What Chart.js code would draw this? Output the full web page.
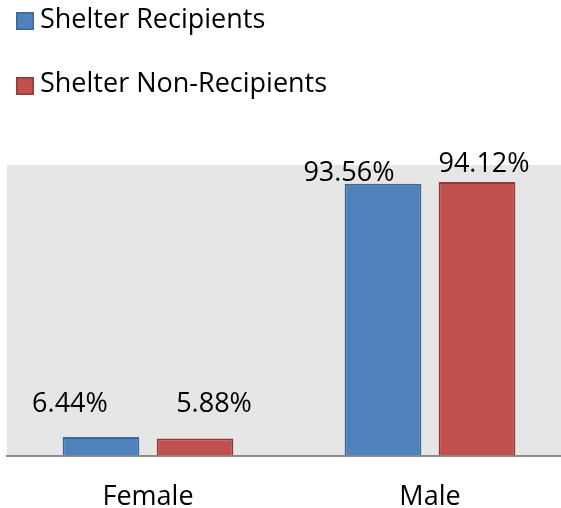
<!DOCTYPE html>
<html><head><meta charset="utf-8">
<script src="https://cdn.jsdelivr.net/npm/chart.js@4"></script>
<style>
html,body{margin:0;padding:0;overflow:hidden;background:#fff;width:561px;height:508px}
#wrap{position:absolute;left:0;top:0;width:561px;height:508px;overflow:hidden}
canvas{position:absolute;left:0;top:0}
</style>
</head><body>
<div id="wrap"><canvas id="c" width="580" height="532"></canvas></div>
<script>
const categories = ['Female', 'Male'];
const seriesNames = ['Shelter Recipients', 'Shelter Non-Recipients'];
const recipients = [6.44, 93.56];
const nonRecipients = [5.88, 94.12];
const recipientLabels = ['6.44%', '93.56%'];
const nonRecipientLabels = ['5.88%', '94.12%'];

const FONT = '"Open Sans", "DejaVu Sans", sans-serif';

const plotBg = {
  id: 'plotBg',
  beforeDraw(chart, args, opts) {
    const {ctx, chartArea: a} = chart;
    ctx.save();
    ctx.fillStyle = opts.color;
    ctx.fillRect(a.left, a.top, a.right - a.left, a.bottom - a.top);
    ctx.restore();
  }
};

const sideLegend = {
  id: 'sideLegend',
  afterDraw(chart, args, opts) {
    const ctx = chart.ctx;
    ctx.save();
    ctx.font = opts.font;
    ctx.textBaseline = 'alphabetic';
    ctx.textAlign = 'left';
    chart.data.datasets.forEach((ds, i) => {
      const top = opts.rowTops[i];
      ctx.fillStyle = ds.backgroundColor;
      ctx.fillRect(opts.boxX, top, opts.boxSize, opts.boxSize);
      ctx.strokeStyle = ds.borderColor;
      ctx.lineWidth = 1.5;
      ctx.strokeRect(opts.boxX + 0.75, top + 0.75, opts.boxSize - 1.5, opts.boxSize - 1.5);
      ctx.fillStyle = '#000';
      ctx.fillText(ds.label, opts.textX, opts.baselines[i]);
    });
    ctx.restore();
  }
};

const valueLabelsPlugin = {
  id: 'valueLabels',
  afterDatasetsDraw(chart, args, opts) {
    const ctx = chart.ctx;
    ctx.save();
    ctx.font = opts.font;
    ctx.fillStyle = '#000';
    ctx.textAlign = 'center';
    ctx.textBaseline = 'middle';
    chart.data.datasets.forEach((ds, di) => {
      const meta = chart.getDatasetMeta(di);
      meta.data.forEach((bar, i) => {
        const off = opts.offsets[di][i];
        ctx.fillText(ds.valueText[i], bar.x + off[0], bar.y + off[1]);
      });
    });
    ctx.restore();
  }
};

new Chart(document.getElementById('c'), {
  type: 'bar',
  data: {
    labels: categories,
    datasets: [
      {label: seriesNames[0], data: recipients, valueText: recipientLabels,
       backgroundColor: '#4f81bd', borderColor: '#3c6796', borderWidth: 2},
      {label: seriesNames[1], data: nonRecipients, valueText: nonRecipientLabels,
       backgroundColor: '#c0504d', borderColor: '#913b39', borderWidth: 2}
    ]
  },
  options: {
    responsive: false,
    animation: false,
    devicePixelRatio: 1,
    datasets: {bar: {categoryPercentage: 0.667, barPercentage: 0.816}},
    layout: {padding: {top: 165, left: 7, right: 9, bottom: 0}},
    scales: {
      x: {
        z: 1,
        grid: {display: false},
        border: {display: true, color: '#8a8a8a', width: 2},
        ticks: {color: '#000', font: {family: FONT, size: 27}, padding: 18}
      },
      y: {display: false, min: 0, max: 100}
    },
    plugins: {
      legend: {display: false},
      tooltip: {enabled: false},
      plotBg: {color: '#e6e6e6'},
      sideLegend: {font: '27px ' + FONT, boxX: 16, boxSize: 18, rowTops: [12, 77], textX: 40, baselines: [28, 92]},
      valueLabels: {font: '27px ' + FONT, offsets: [[[-31, -33], [-34, -10]], [[19, -34], [7, -18]]]}
    }
  },
  plugins: [plotBg, sideLegend, valueLabelsPlugin]
});
</script>
</body></html>
